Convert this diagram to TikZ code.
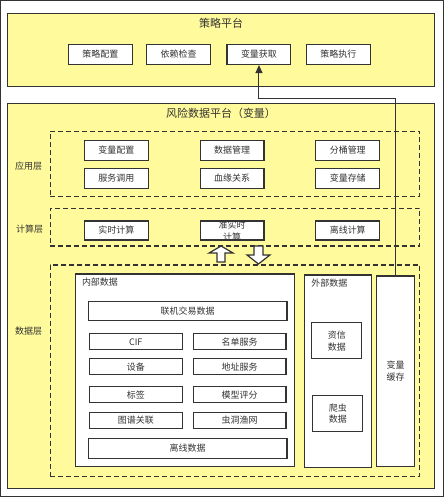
\documentclass[tikz,border=0pt]{standalone}
\usepackage{fontspec}
\setmainfont{Noto Sans CJK SC}
\usetikzlibrary{arrows.meta}
\definecolor{platyellow}{RGB}{255,250,155}
\definecolor{linegray}{RGB}{51,51,51}
\tikzset{every path/.style={draw=linegray, line width=1.2pt},
         every node/.style={text=linegray, font=\fontsize{9}{12}\selectfont, inner sep=0pt},
         platform/.style={draw, fill=platyellow, minimum width=428pt},
         layer/.style={draw, dashed, dash pattern=on 5pt off 3pt, minimum width=370pt},
         item/.style={draw, fill=white, minimum width=64pt, minimum height=20pt},
         cell/.style={draw, fill=white, minimum width=93pt, minimum height=16pt},
         panel/.style={draw, fill=white},
         hollow/.style={draw=linegray, fill=white, line width=1.2pt}}

\begin{document}
\begin{tikzpicture}[x=1pt,y=-1pt]
  \useasboundingbox (0,0) rectangle (444,497);
  \begin{scope}
   \node[platform, minimum height=73pt] (strategy) at (221,49.5) {};
   \node[font=\fontsize{11}{13}\selectfont] (strategytitle) at (221,23) {策略平台};
   \node[item] (config) at (100,54)   {策略配置};
   \node[item] (check)  at (178.5,54) {依赖检查};
   \node[item] (fetch)  at (259,54)   {变量获取};
   \node[item] (exec)   at (338.5,54) {策略执行};
  \end{scope}
  \begin{scope}
   \node[platform, minimum height=386pt] (risk) at (221,296) {};
   \node[font=\fontsize{11}{13}\selectfont] (risktitle) at (221,113) {风险数据平台（变量）};
   \node[layer, minimum height=65pt]  (app)  at (235,163.5) {};
   \node[layer, minimum height=38pt]  (calc) at (235,227) {};
   \node[layer, minimum height=212pt] (data) at (235,371) {};
   \node (applabel)  at (28,166) {应用层};
   \node (calclabel) at (29,229) {计算层};
   \node (datalabel) at (28,331) {数据层};
  \end{scope}
  \begin{scope}
   \node[item] (varconf)  at (116,150) {变量配置};
   \node[item] (datamgmt) at (232,150) {数据管理};
   \node[item] (bucket)   at (348,150) {分桶管理};
   \node[item] (service)  at (116,178) {服务调用};
   \node[item] (lineage)  at (232,178) {血缘关系};
   \node[item] (store)    at (348,178) {变量存储};
   \node[item, minimum height=19pt] (realtime) at (116,230.5) {实时计算};
   \node[item, minimum height=19pt] (nearreal) at (232,230.5) {};
   \node[align=center] (nearrealtext) at (232,231.5) {准实时\\计算};
   \node[item, minimum height=19pt] (offline)  at (348,230.5) {离线计算};
  \end{scope}
  \draw[hollow] (217,262) -- (217,253) -- (209,253) -- (221,246) -- (233,253) -- (225,253) -- (225,262) -- cycle;
  \draw[hollow] (254,246) -- (263,246) -- (263,255) -- (270,255) -- (258.5,264) -- (247,255) -- (254,255) -- cycle;
  \begin{scope}
   \node[panel, minimum width=220pt, minimum height=193pt] (inner) at (185,370.5) {};
   \node[anchor=west] (innerlabel) at (81,282) {内部数据};
   \node[cell, minimum width=199pt, minimum height=19pt] (online) at (187.5,311.5) {联机交易数据};
   \node[cell] (cif)     at (135.5,342) {CIF};
   \node[cell] (list)    at (239.5,342) {名单服务};
   \node[cell] (device)  at (135.5,367) {设备};
   \node[cell] (address) at (239.5,367) {地址服务};
   \node[cell] (tag)     at (135.5,395) {标签};
   \node[cell] (model)   at (239.5,395) {模型评分};
   \node[cell] (graph)   at (135.5,421) {图谱关联};
   \node[cell] (wormhole) at (239.5,421) {虫洞渔网};
   \node[cell, minimum width=199pt, minimum height=20pt] (offdata) at (187.5,449) {离线数据};
  \end{scope}
  \begin{scope}
   \node[panel, minimum width=67pt, minimum height=193pt] (outer) at (338.5,371.5) {};
   \node[anchor=west] (outerlabel) at (311,283) {外部数据};
   \node[panel, minimum width=50pt, minimum height=36pt, align=center] (credit)  at (337,341) {资信\\数据};
   \node[panel, minimum width=50pt, minimum height=36pt, align=center] (crawler) at (338,414) {爬虫\\数据};
   \node[panel, minimum width=38pt, minimum height=191pt, align=center] (cache) at (396,371.5) {变量\\缓存};
  \end{scope}
  \coordinate (bend) at (396,98);
  \draw[-{Triangle[length=8pt,width=7pt]}, line width=1pt] (cache.north) -- (bend) -| (fetch.south);
\end{tikzpicture}
\end{document}
